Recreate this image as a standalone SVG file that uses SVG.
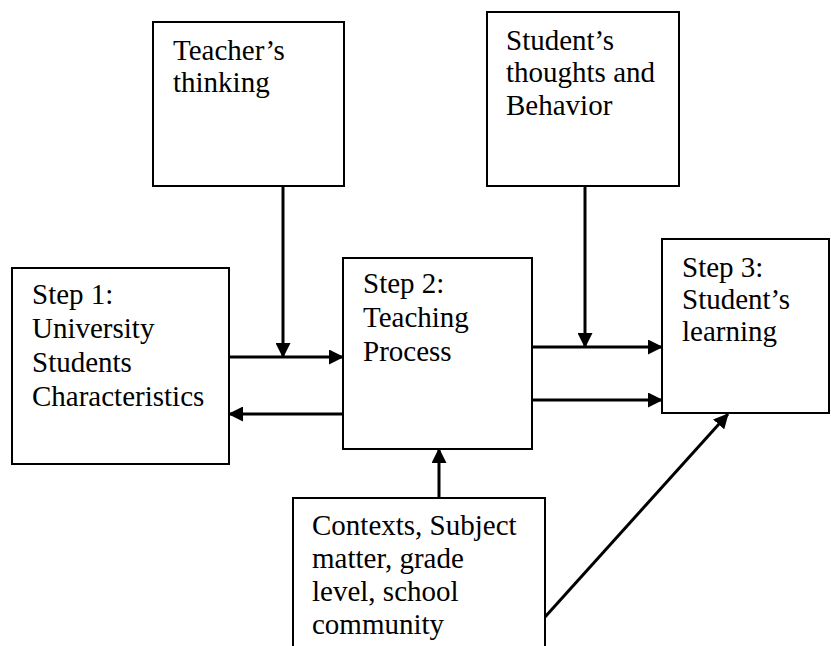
<svg xmlns="http://www.w3.org/2000/svg" width="831" height="646" viewBox="0 0 831 646">
<style>
.box{fill:#fff;stroke:#000;stroke-width:2}
.lbl{font-family:"Liberation Serif","Times New Roman",serif;font-size:29px;fill:#000}
.arr{stroke:#000;stroke-width:3;fill:none;marker-end:url(#ah)}
</style>
<defs>
<marker id="ah" markerUnits="userSpaceOnUse" markerWidth="15" markerHeight="15" refX="14" refY="7.5" orient="auto" viewBox="0 0 15 15">
<path d="M0,0 L15,7.5 L0,15 z" fill="#000"/>
</marker>
</defs>
<rect width="831" height="646" fill="#fff"/>
<g id="teacher">
<rect class="box" x="153" y="22" width="191" height="164"/>
<text class="lbl" x="173" y="60">Teacher’s</text>
<text class="lbl" x="173" y="92">thinking</text>
</g>
<g id="student-thoughts">
<rect class="box" x="487" y="12" width="192" height="174"/>
<text class="lbl" x="506" y="50">Student’s</text>
<text class="lbl" x="506" y="82">thoughts and</text>
<text class="lbl" x="506" y="115">Behavior</text>
</g>
<g id="step1">
<rect class="box" x="12" y="268" width="217" height="196"/>
<text class="lbl" x="32" y="304">Step 1:</text>
<text class="lbl" x="32" y="338">University</text>
<text class="lbl" x="32" y="372">Students</text>
<text class="lbl" x="32" y="406">Characteristics</text>
</g>
<g id="step2">
<rect class="box" x="343" y="258" width="189" height="191"/>
<text class="lbl" x="363" y="293">Step 2:</text>
<text class="lbl" x="363" y="327">Teaching</text>
<text class="lbl" x="363" y="361">Process</text>
</g>
<g id="step3">
<rect class="box" x="662" y="239" width="167" height="174"/>
<text class="lbl" x="682" y="277">Step 3:</text>
<text class="lbl" x="682" y="309">Student’s</text>
<text class="lbl" x="682" y="341">learning</text>
</g>
<g id="contexts">
<rect class="box" x="293" y="498" width="252" height="200"/>
<text class="lbl" x="312" y="535">Contexts, Subject</text>
<text class="lbl" x="312" y="568">matter, grade</text>
<text class="lbl" x="312" y="601">level, school</text>
<text class="lbl" x="312" y="634">community</text>
</g>
<g id="connectors">
<line class="arr" x1="283" y1="186" x2="283" y2="357"/>
<line class="arr" x1="229" y1="357" x2="343" y2="357"/>
<line class="arr" x1="343" y1="414" x2="229" y2="414"/>
<line class="arr" x1="585" y1="186" x2="585" y2="347"/>
<line class="arr" x1="532" y1="347" x2="662" y2="347"/>
<line class="arr" x1="532" y1="400" x2="662" y2="400"/>
<line class="arr" x1="439" y1="498" x2="439" y2="449"/>
<line class="arr" x1="545" y1="617" x2="728" y2="414"/>
</g>
</svg>
